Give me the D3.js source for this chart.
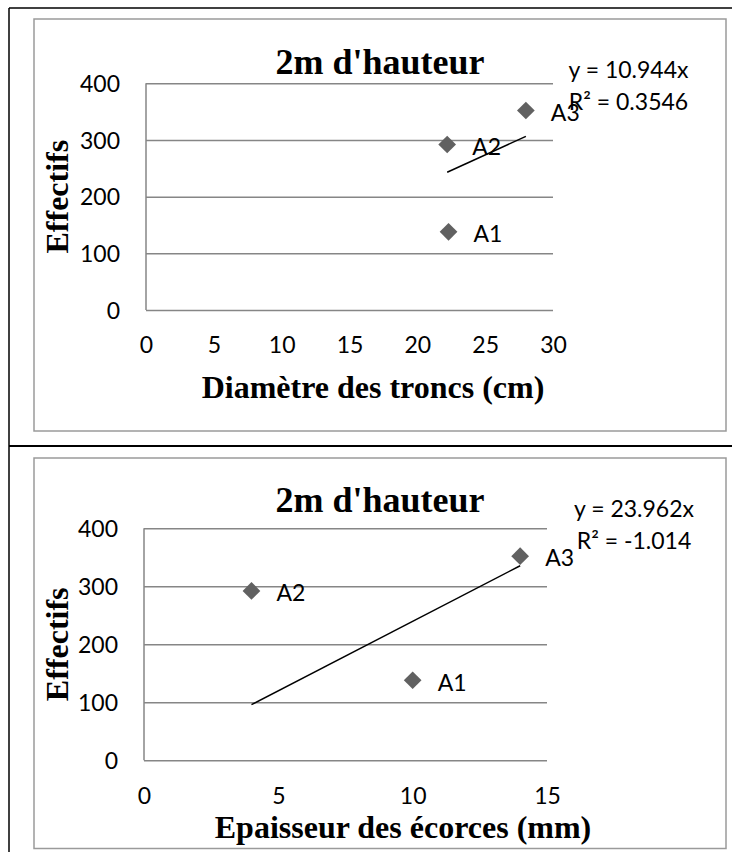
<!DOCTYPE html>
<html>
<head>
<meta charset="utf-8">
<script src="https://cdn.jsdelivr.net/npm/d3@7/dist/d3.min.js"></script>
<style>
  html, body { margin: 0; padding: 0; background: #fff; }
  svg { display: block; }
  .tick text { font-family: Lato, "Open Sans", sans-serif; font-size: 23px; fill: #000; }
  .lbl { font-family: Lato, "Open Sans", sans-serif; font-size: 23px; fill: #000; }
  .ttl { font-family: "Liberation Serif", "Times New Roman", serif; font-weight: bold; fill: #000; }
</style>
</head>
<body>
<svg id="chart" width="732" height="852"></svg>
<script>
// Sites and counts (Effectifs) at 2 m height
const sites = ["A1", "A2", "A3"];
const effectifs = [138, 292, 352];
// Trunk diameter (cm) and bark thickness (mm) per site
const diametre = [22.3, 22.2, 28];
const epaisseur = [10, 4, 14];
// Linear trend through the origin, with its displayed equation
const pentes = [10.944, 23.962];
const equations = [["y = 10.944x", "R² = 0.3546"], ["y = 23.962x", "R² = -1.014"]];
// Axis ticks
const yTicks = [0, 100, 200, 300, 400];
const xTicksDiam = [0, 5, 10, 15, 20, 25, 30];
const xTicksEpais = [0, 5, 10, 15];
const titre = "2m d'hauteur";
const yTitre = "Effectifs";
const xTitres = ["Diamètre des troncs (cm)", "Epaisseur des écorces (mm)"];

const svg = d3.select("#chart");

// Outer table frame
const frame = svg.append("g").attr("stroke", "#000").attr("fill", "none");
frame.append("line").attr("x1", 9).attr("x2", 732).attr("y1", 8).attr("y2", 8).attr("stroke-width", 1.5);
frame.append("line").attr("x1", 9).attr("x2", 9).attr("y1", 8).attr("y2", 852).attr("stroke-width", 1.5);
frame.append("line").attr("x1", 9).attr("x2", 732).attr("y1", 446).attr("y2", 446).attr("stroke-width", 2);

function panel(cfg) {
  const g = svg.append("g");
  // chart box
  g.append("rect")
    .attr("x", cfg.box[0]).attr("y", cfg.box[1])
    .attr("width", cfg.box[2] - cfg.box[0]).attr("height", cfg.box[3] - cfg.box[1])
    .attr("fill", "#fff").attr("stroke", "#9a9a9a").attr("stroke-width", 1.5);

  const x = d3.scaleLinear().domain(cfg.xDomain).range([cfg.plot.left, cfg.plot.right]);
  const y = d3.scaleLinear().domain([0, 400]).range([cfg.plot.bottom, cfg.plot.top]);
  const w = cfg.plot.right - cfg.plot.left;

  // y axis with horizontal gridlines
  const ya = g.append("g")
    .attr("transform", `translate(${cfg.plot.left},0)`)
    .call(d3.axisLeft(y).tickValues(yTicks).tickSize(-w).tickPadding(26).tickFormat(d3.format("d")));
  ya.select(".domain").remove();
  ya.selectAll(".tick line").attr("stroke", "#868686").attr("stroke-width", 1.5);
  ya.selectAll(".tick text").attr("dy", "0.36em");

  // left edge of plot area
  g.append("line")
    .attr("x1", cfg.plot.left).attr("x2", cfg.plot.left)
    .attr("y1", y(400)).attr("y2", y(0))
    .attr("stroke", "#868686").attr("stroke-width", 1.5);

  // x axis labels
  const xa = g.append("g")
    .attr("transform", `translate(0,${cfg.plot.bottom})`)
    .call(d3.axisBottom(x).tickValues(cfg.xTicks).tickSize(0).tickPadding(cfg.xPad).tickFormat(d3.format("d")));
  xa.select(".domain").remove();

  // trend line y = a*x between the extreme x values
  const ext = d3.extent(cfg.xs);
  g.append("line")
    .attr("x1", x(ext[0])).attr("y1", y(cfg.pente * ext[0]))
    .attr("x2", x(ext[1])).attr("y2", y(cfg.pente * ext[1]))
    .attr("stroke", "#000").attr("stroke-width", 1.5);

  // markers
  const pts = sites.map((s, i) => ({ s, x: cfg.xs[i], y: effectifs[i] }));
  g.selectAll("path.pt").data(pts).join("path")
    .attr("class", "pt")
    .attr("d", d3.symbol(d3.symbolDiamond2, 200)())
    .attr("transform", d => `translate(${x(d.x)},${y(d.y)})`)
    .attr("fill", "#616161");

  // point labels
  g.selectAll("text.pl").data(pts).join("text")
    .attr("class", "lbl pl")
    .attr("x", d => x(d.x) + 25)
    .attr("y", d => y(d.y) + 2)
    .attr("dy", "0.36em")
    .text(d => d.s);

  // trend equation
  g.selectAll("text.eq").data(cfg.eq).join("text")
    .attr("class", "lbl eq")
    .attr("text-anchor", "middle")
    .attr("x", cfg.eqX)
    .attr("y", (d, i) => cfg.eqY + i * 32)
    .text(d => d);

  // titles
  g.append("text").attr("class", "ttl")
    .attr("x", (cfg.box[0] + cfg.box[2]) / 2).attr("y", cfg.titleY)
    .attr("text-anchor", "middle").attr("font-size", 36)
    .text(titre);
  g.append("text").attr("class", "ttl")
    .attr("transform", `translate(${cfg.yTitleX},${(cfg.plot.top + cfg.plot.bottom) / 2}) rotate(-90)`)
    .attr("text-anchor", "middle").attr("font-size", 32)
    .text(yTitre);
  g.append("text").attr("class", "ttl")
    .attr("x", cfg.xTitleX).attr("y", cfg.xTitleY)
    .attr("text-anchor", "middle").attr("font-size", 32)
    .text(cfg.xTitre);
}

panel({
  box: [34, 19, 726, 431],
  plot: { left: 146, right: 553, top: 83.3, bottom: 310 },
  xDomain: [0, 30], xTicks: xTicksDiam, xPad: 27,
  xs: diametre, pente: pentes[0], eq: equations[0],
  eqX: 628.5, eqY: 78,
  titleY: 74, yTitleX: 68, xTitleX: 373, xTitleY: 398,
  xTitre: xTitres[0]
});

panel({
  box: [34, 458, 726, 848.5],
  plot: { left: 144, right: 547, top: 528.3, bottom: 760.3 },
  xDomain: [0, 15], xTicks: xTicksEpais, xPad: 27,
  xs: epaisseur, pente: pentes[1], eq: equations[1],
  eqX: 634, eqY: 517,
  titleY: 512, yTitleX: 68, xTitleX: 403, xTitleY: 838,
  xTitre: xTitres[1]
});
</script>
</body>
</html>
